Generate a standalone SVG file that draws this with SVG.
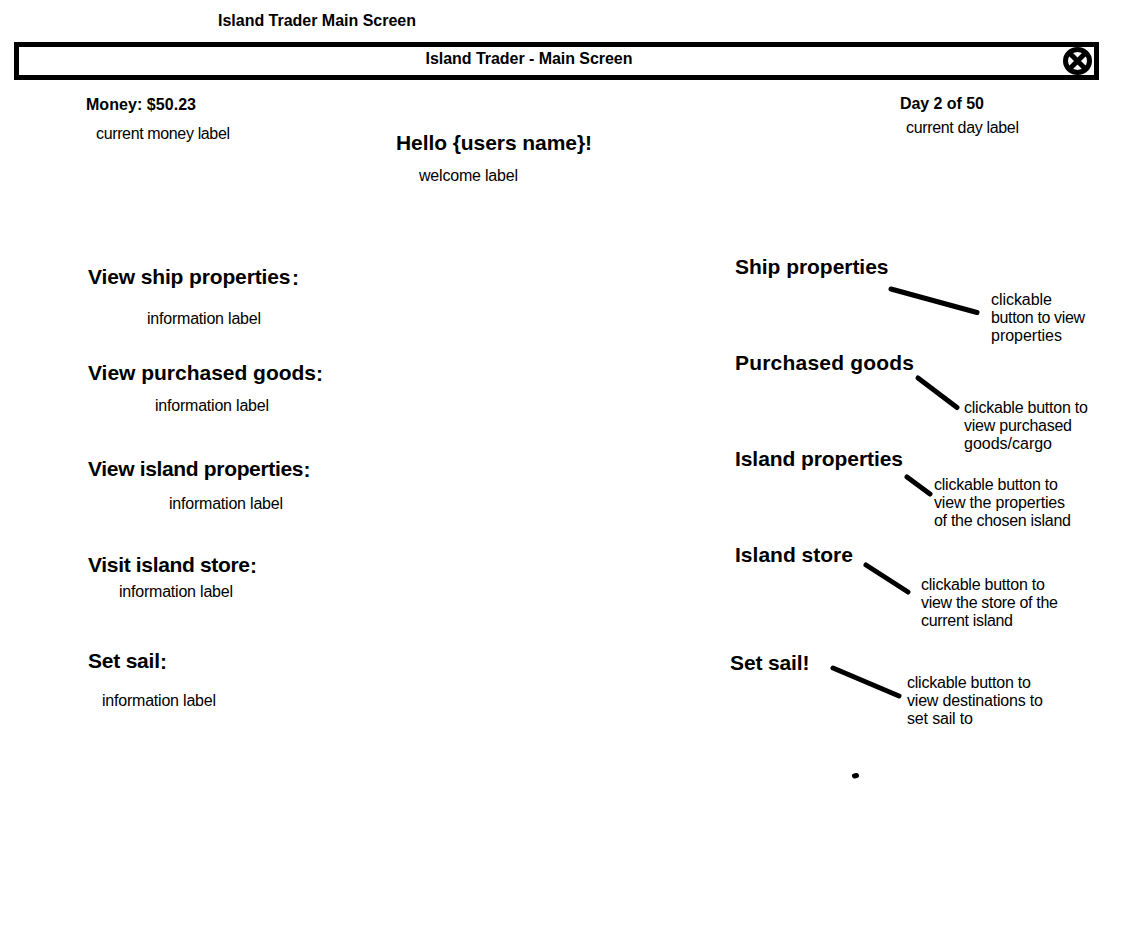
<svg xmlns="http://www.w3.org/2000/svg" width="1121" height="952" viewBox="0 0 1121 952">
<style>
text{font-family:"Liberation Sans",Arial,sans-serif;fill:#000}
.t{font-size:16px;font-weight:bold}
.h{font-size:21px;font-weight:bold}
.l{font-size:16px}
.c{fill:none;stroke:#000;stroke-width:5;stroke-linecap:round}
</style>
<rect width="1121" height="952" fill="#fff"/>
<g id="title"><text class="t" x="218" y="26" textLength="198">Island Trader Main Screen</text></g>
<g id="titlebar">
<rect x="16.500" y="44.500" width="1080" height="33" fill="#fff" stroke="#000" stroke-width="5"/>
<text class="t" x="425.500" y="64" textLength="207">Island Trader - Main Screen</text>
</g>
<g id="close-button">
<ellipse cx="1077.500" cy="61" rx="12" ry="11.500" fill="#fff" stroke="#000" stroke-width="5"/>
<path d="M1069.500 53L1085.500 69M1085.500 53L1069.500 69" stroke="#000" stroke-width="5"/>
</g>
<g id="money"><text class="t" x="86" y="110" textLength="110">Money: $50.23</text><text class="l" x="96" y="139" textLength="134">current money label</text></g>
<g id="day"><text class="t" x="900" y="109" textLength="84">Day 2 of 50</text><text class="l" x="906" y="133" textLength="113">current day label</text></g>
<g id="welcome"><text class="h" x="396" y="150" textLength="196">Hello {users name}!</text><text class="l" x="419" y="181" textLength="99">welcome label</text></g>
<g id="view-ship"><text class="h" x="88" y="284" textLength="202.500">View ship properties</text><text class="h" x="292" y="285">:</text><text class="l" x="147" y="324" textLength="114">information label</text></g>
<g id="view-goods"><text class="h" x="88" y="380" textLength="228">View purchased goods</text><text class="h" x="316" y="381">:</text><text class="l" x="155" y="411" textLength="114">information label</text></g>
<g id="view-island"><text class="h" x="88" y="476" textLength="215.500">View island properties</text><text class="h" x="303.500" y="477">:</text><text class="l" x="169" y="509" textLength="114">information label</text></g>
<g id="visit-store"><text class="h" x="88" y="572" textLength="162">Visit island store</text><text class="h" x="250" y="573">:</text><text class="l" x="119" y="597" textLength="114">information label</text></g>
<g id="set-sail"><text class="h" x="88" y="668" textLength="72">Set sail</text><text class="h" x="160" y="669">:</text><text class="l" x="102" y="706" textLength="114">information label</text></g>
<g id="ship-button"><text class="h" x="735" y="274" textLength="153.500">Ship properties</text>
<text class="l" x="991" y="305" textLength="61">clickable</text><text class="l" x="991" y="323" textLength="94">button to view</text><text class="l" x="991" y="341" textLength="71">properties</text></g>
<g id="goods-button"><text class="h" x="735" y="370" textLength="179">Purchased goods</text>
<text class="l" x="964" y="413" textLength="124">clickable button to</text><text class="l" x="964" y="431" textLength="108">view purchased</text><text class="l" x="964" y="449" textLength="88">goods/cargo</text></g>
<g id="island-button"><text class="h" x="735" y="466" textLength="168">Island properties</text>
<text class="l" x="934" y="490" textLength="124">clickable button to</text><text class="l" x="934" y="508" textLength="131">view the properties</text><text class="l" x="934" y="526" textLength="137">of the chosen island</text></g>
<g id="store-button"><text class="h" x="735" y="562" textLength="118">Island store</text>
<text class="l" x="921" y="590" textLength="124">clickable button to</text><text class="l" x="921" y="608" textLength="137">view the store of the</text><text class="l" x="921" y="626" textLength="92">current island</text></g>
<g id="sail-button"><text class="h" x="730" y="670" textLength="79.500">Set sail!</text>
<text class="l" x="907" y="688" textLength="124">clickable button to</text><text class="l" x="907" y="706" textLength="136">view destinations to</text><text class="l" x="907" y="724" textLength="66">set sail to</text></g>
<g id="connectors">
<path class="c" d="M891 289L977 312.500"/>
<path class="c" d="M918 378L957 407.500"/>
<path class="c" d="M907 477L930 494"/>
<path class="c" d="M866 565L908 592"/>
<path class="c" d="M833 668L899 696"/>
<path class="c" d="M854.500 776L856.500 775.500"/>
</g>
</svg>
